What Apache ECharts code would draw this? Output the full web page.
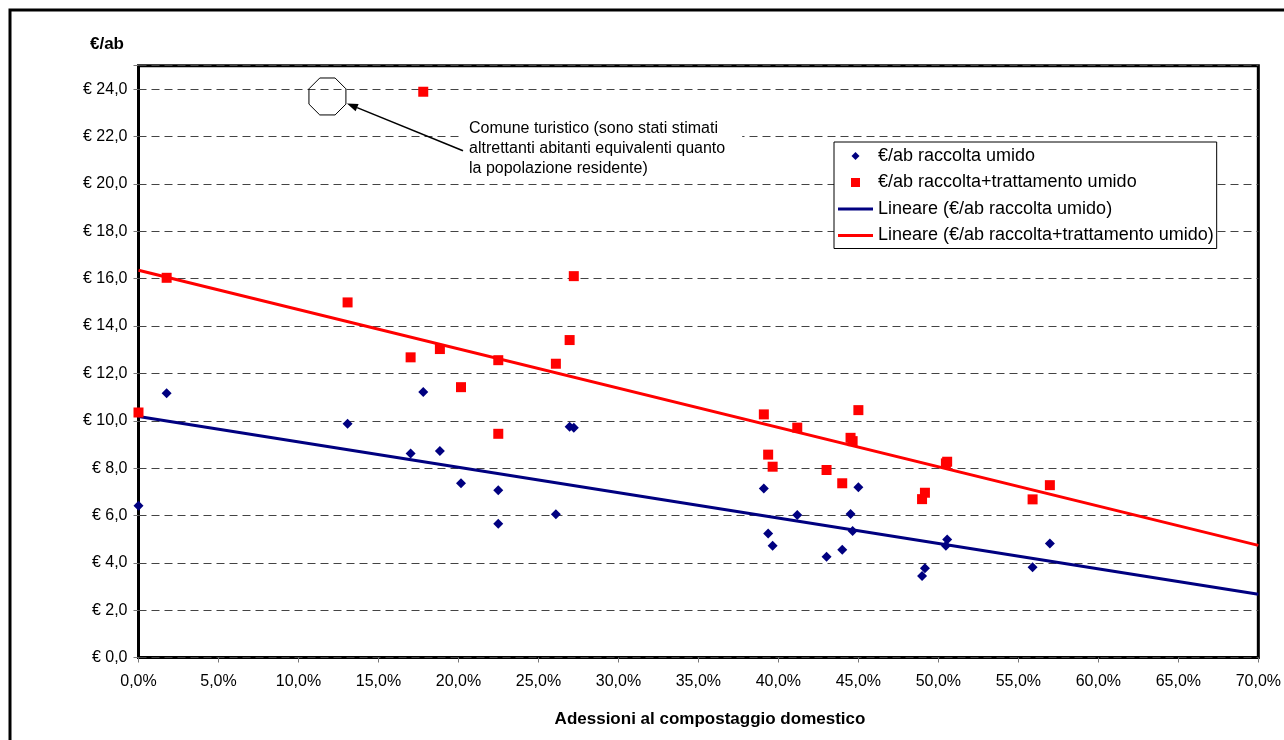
<!DOCTYPE html>
<html>
<head>
<meta charset="utf-8">
<script src="https://cdn.jsdelivr.net/npm/echarts@6/dist/echarts.min.js"></script>
<style>
  html, body { margin: 0; padding: 0; background: #fff; }
  #chart { width: 1284px; height: 740px; }
</style>
</head>
<body>
<div id="chart"></div>
<script>
// Adesioni al compostaggio domestico (%) per comune
const adesioni = [0, 1.76, 13.07, 17.01, 17.8, 18.84, 20.16, 22.49, 22.49, 26.09, 26.95, 27.21,
  39.09, 39.36, 39.64, 41.18, 43.01, 43.99, 44.51, 44.64, 45.0, 48.98, 49.16, 50.47, 50.55, 55.89, 56.97];
// €/ab raccolta umido
const raccolta = [6.41, 11.16, 9.87, 8.62, 11.22, 8.72, 7.36, 7.07, 5.65, 6.05, 9.75, 9.71,
  7.14, 5.24, 4.72, 6.02, 4.26, 4.55, 6.06, 5.34, 7.19, 3.44, 3.77, 4.72, 4.99, 3.81, 4.82];
// €/ab raccolta + trattamento umido
const raccoltaTrattamento = [10.35, 16.04, 15.0, 12.68, 23.9, 13.03, 11.42, 12.56, 9.45, 12.41, 13.41, 16.11,
  10.27, 8.57, 8.06, 9.71, 7.92, 7.36, 9.28, 9.14, 10.45, 6.69, 6.96, 8.2, 8.27, 6.68, 7.28];

const seriesNames = [
  '€/ab raccolta umido',
  '€/ab raccolta+trattamento umido',
  'Lineare (€/ab raccolta umido)',
  'Lineare (€/ab raccolta+trattamento umido)'
];
const xTitle = 'Adessioni al compostaggio domestico';
const yTitle = '€/ab';
const noteText = 'Comune turistico (sono stati stimati\naltrettanti abitanti equivalenti quanto\nla popolazione residente)';

const X_MIN = 0, X_MAX = 70, X_STEP = 5;
const Y_MIN = 0, Y_MAX = 25, Y_STEP = 2;

const FONT = '"Liberation Sans", Arial, sans-serif';
const NAVY = '#000080';
const RED = '#FF0000';

// least-squares linear trend over the x-axis range
function linearTrend(xs, ys) {
  const n = xs.length;
  const mx = xs.reduce((a, b) => a + b, 0) / n;
  const my = ys.reduce((a, b) => a + b, 0) / n;
  let sxy = 0, sxx = 0;
  for (let i = 0; i < n; i++) {
    sxy += (xs[i] - mx) * (ys[i] - my);
    sxx += (xs[i] - mx) * (xs[i] - mx);
  }
  const m = sxy / sxx;
  const b = my - m * mx;
  return [[X_MIN, b + m * X_MIN], [X_MAX, b + m * X_MAX]];
}

const pairs = (xs, ys) => xs.map((x, i) => [x, ys[i]]);
const comma = (v) => v.toFixed(1).replace('.', ',');

// legend glyphs drawn inside a 35x10 box (the leading moves pin the box size)
const BOX = 'M0,0M35,10';
const DIAMOND_ICON = 'path://' + BOX + 'M17.5,1L21.5,5L17.5,9L13.5,5Z';
const SQUARE_ICON = 'path://' + BOX + 'M13,0.5L22,0.5L22,9.5L13,9.5Z';
const LINE_ICON = 'path://' + BOX + 'M0,3.5L35,3.5L35,6.5L0,6.5Z';

const chart = echarts.init(document.getElementById('chart'), null, { renderer: 'canvas' });

const option = {
  animation: false,
  backgroundColor: '#fff',
  textStyle: { fontFamily: FONT },
  grid: {
    left: 138.5, right: 25.5, top: 65.7, bottom: 82.5,
    show: true, borderColor: '#000', borderWidth: 3, backgroundColor: '#fff'
  },
  xAxis: {
    type: 'value', min: X_MIN, max: X_MAX, interval: X_STEP,
    axisLine: { show: false },
    axisTick: { show: true, inside: false, length: 5, lineStyle: { color: '#777', width: 1 } },
    axisLabel: { margin: 16, fontSize: 16, color: '#000', fontFamily: FONT,
      formatter: (v) => comma(v) + '%' },
    splitLine: { show: false }
  },
  yAxis: {
    type: 'value', min: Y_MIN, max: Y_MAX, interval: Y_STEP,
    axisLine: { show: false },
    axisTick: { show: true, inside: false, length: 5, lineStyle: { color: '#777', width: 1 } },
    axisLabel: { margin: 11, fontSize: 16, color: '#000', fontFamily: FONT,
      formatter: (v) => (v % Y_STEP === 0 ? '€ ' + comma(v) : '') },
    splitLine: { show: true, lineStyle: { color: '#444', width: 1, type: [8, 5] } }
  },
  legend: {
    orient: 'vertical',
    left: 834, top: 142,
    padding: [4, 3, 3, 4],
    itemGap: 6.5,
    itemWidth: 35, itemHeight: 10,
    backgroundColor: '#fff', borderColor: '#000', borderWidth: 1, borderRadius: 0,
    textStyle: { fontSize: 18, color: '#000', fontFamily: FONT, lineHeight: 20 },
    data: [
      { name: seriesNames[0], icon: DIAMOND_ICON, itemStyle: { color: NAVY, opacity: 1 } },
      { name: seriesNames[1], icon: SQUARE_ICON, itemStyle: { color: RED, opacity: 1 } },
      { name: seriesNames[2], icon: LINE_ICON, itemStyle: { color: NAVY, opacity: 1 } },
      { name: seriesNames[3], icon: LINE_ICON, itemStyle: { color: RED, opacity: 1 } }
    ]
  },
  series: [
    {
      name: seriesNames[2], type: 'line', z: 2, silent: true,
      data: linearTrend(adesioni, raccolta),
      symbol: 'none', showSymbol: false,
      lineStyle: { color: NAVY, width: 3 }, itemStyle: { color: NAVY }
    },
    {
      name: seriesNames[3], type: 'line', z: 2, silent: true,
      data: linearTrend(adesioni, raccoltaTrattamento),
      symbol: 'none', showSymbol: false,
      lineStyle: { color: RED, width: 3 }, itemStyle: { color: RED }
    },
    {
      name: seriesNames[0], type: 'scatter', z: 3,
      data: pairs(adesioni, raccolta),
      symbol: 'diamond', symbolSize: [10, 10],
      itemStyle: { color: NAVY, opacity: 1 }
    },
    {
      name: seriesNames[1], type: 'scatter', z: 4,
      data: pairs(adesioni, raccoltaTrattamento),
      symbol: 'rect', symbolSize: [10, 10],
      itemStyle: { color: RED, opacity: 1 }
    }
  ]
};
chart.setOption(option);

// octagon callout and arrow, anchored in data space
const center = chart.convertToPixel({ gridIndex: 0 }, [11.81, 23.70]);
const R = 20;
const octagon = [];
for (let k = 0; k < 8; k++) {
  const a = (22.5 + 45 * k) * Math.PI / 180;
  octagon.push([center[0] + R * Math.cos(a), center[1] + R * Math.sin(a)]);
}
const tip = [center[0] + 19.5, center[1] + 7];
const tail = [463, 150.7];
const dx = tail[0] - tip[0], dy = tail[1] - tip[1];
const len = Math.hypot(dx, dy);
const ux = dx / len, uy = dy / len;
const headLen = 11, headHalf = 4;
const base = [tip[0] + ux * headLen, tip[1] + uy * headLen];
const head = [
  tip,
  [base[0] - uy * headHalf, base[1] + ux * headHalf],
  [base[0] + uy * headHalf, base[1] - ux * headHalf]
];

chart.setOption({
  graphic: [
    { type: 'rect', shape: { x: 10, y: 10, width: 1300, height: 800 },
      style: { fill: null, stroke: '#000', lineWidth: 3 }, silent: true, z: 100 },
    { type: 'text', x: 107, y: 44,
      style: { text: yTitle, font: 'bold 17px ' + FONT, fill: '#000', align: 'center', verticalAlign: 'middle' } },
    { type: 'text', x: 710, y: 719,
      style: { text: xTitle, font: 'bold 17px ' + FONT, fill: '#000', align: 'center', verticalAlign: 'middle' } },
    { type: 'polygon', shape: { points: octagon },
      style: { fill: null, stroke: '#000', lineWidth: 1 }, z: 50 },
    { type: 'line', shape: { x1: tail[0], y1: tail[1], x2: base[0], y2: base[1] },
      style: { stroke: '#000', lineWidth: 1.6 }, z: 50 },
    { type: 'polygon', shape: { points: head }, style: { fill: '#000' }, z: 50 },
    { type: 'text', x: 463, y: 116.3,
      style: { text: noteText, font: '16px ' + FONT, fill: '#000', lineHeight: 20,
        align: 'left', verticalAlign: 'top', backgroundColor: '#fff', padding: [2, 17, 2, 6] }, z: 49 }
  ]
});
</script>
</body>
</html>
